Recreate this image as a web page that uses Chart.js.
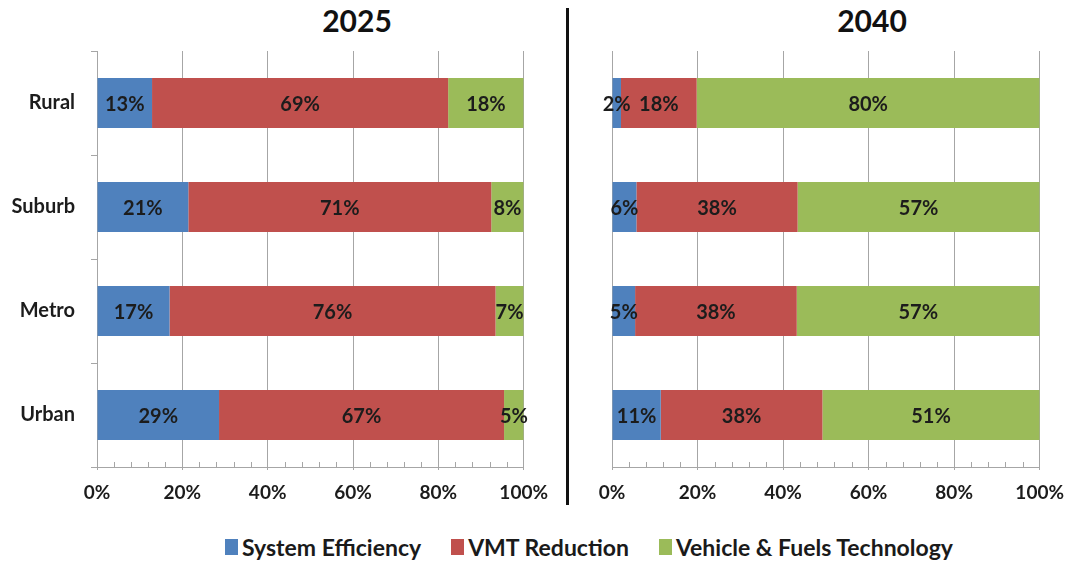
<!DOCTYPE html>
<html>
<head>
<meta charset="utf-8">
<script src="https://cdn.jsdelivr.net/npm/chart.js@4/dist/chart.umd.min.js"></script>
<style>
  body { margin: 0; background: #fff; font-family: Lato, sans-serif; }
  #wrap { position: relative; width: 1068px; height: 567px; overflow: hidden; }
  .box { position: absolute; top: 0; height: 510px; }
  .title { position: absolute; top: 2px; font: bold 30px Lato, sans-serif; color: #111; width: 200px; text-align: center; }
  #divider { position: absolute; left: 566px; top: 8px; width: 3px; height: 497px; background: #111; }
  #legend { position: absolute; left: 0; width: 1068px; top: 533px; display: flex; justify-content: center; padding-left: 110px; box-sizing: border-box; }
  .item { display: flex; align-items: center; margin: 0 15px; font: bold 23px Lato, sans-serif; color: #1a1a1a; }
  .swatch { width: 13px; height: 16px; margin-right: 4px; }
</style>
</head>
<body>
<div id="wrap">
  <div class="title" style="left:257px">2025</div>
  <div class="title" style="left:772px">2040</div>
  <div class="box" style="left:0;width:559px"><canvas id="left"></canvas></div>
  <div class="box" style="left:575px;width:500px"><canvas id="right"></canvas></div>
  <div id="divider"></div>
  <div id="legend"></div>
</div>
<script>
"use strict";
var categories = ['Rural', 'Suburb', 'Metro', 'Urban'];
var seriesNames = ['System Efficiency', 'VMT Reduction', 'Vehicle & Fuels Technology'];
var seriesColors = ['#4f81bd', '#c0504d', '#9bbb59'];
var xTicks = [0, 20, 40, 60, 80, 100];

// 2025
var sysEff2025 = [12.9, 21.4, 17.0, 28.6];
var vmt2025 = [69.4, 71.0, 76.4, 66.8];
var vehicle2025 = [17.7, 7.6, 6.6, 4.6];
// 2040
var sysEff2040 = [2.1, 5.7, 5.4, 11.4];
var vmt2040 = [17.7, 37.7, 37.8, 37.8];
var vehicle2040 = [80.2, 56.6, 56.8, 50.8];

var gridGrey = '#a6a6a6';
var textColor = '#1c1c1c';

// value labels in the middle of each segment
var barLabels = {
    id: 'barLabels',
    afterDatasetsDraw: function(chart) {
        var ctx = chart.ctx;
        ctx.save();
        ctx.font = 'bold 20px Lato, sans-serif';
        ctx.fillStyle = textColor;
        ctx.textAlign = 'center';
        ctx.textBaseline = 'middle';
        chart.data.datasets.forEach(function(ds, i) {
            chart.getDatasetMeta(i).data.forEach(function(bar, j) {
                var p = bar.getCenterPoint();
                ctx.fillText(Math.round(ds.data[j]) + '%', p.x, p.y + 2);
            });
        });
        ctx.restore();
    }
};

// small minor ticks every 4% standing on the x axis
var minorTicks = {
    id: 'minorTicks',
    afterDraw: function(chart) {
        var ctx = chart.ctx, x = chart.scales.x, bottom = chart.chartArea.bottom;
        ctx.save();
        ctx.strokeStyle = gridGrey;
        ctx.lineWidth = 1;
        for (var v = 4; v < 100; v += 4) {
            if (v % 20 === 0) continue;
            var px = Math.round(x.getPixelForValue(v)) + 0.5;
            ctx.beginPath();
            ctx.moveTo(px, bottom);
            ctx.lineTo(px, bottom - 5);
            ctx.stroke();
        }
        ctx.restore();
    }
};

function makeChart(id, values, showCats, yWidth) {
    return new Chart(document.getElementById(id), {
        type: 'bar',
        data: {
            labels: categories,
            datasets: values.map(function(v, i) {
                return {
                    label: seriesNames[i],
                    data: v,
                    backgroundColor: seriesColors[i],
                    borderWidth: 0,
                    categoryPercentage: 0.48,
                    barPercentage: 1
                };
            })
        },
        options: {
            indexAxis: 'y',
            responsive: true,
            maintainAspectRatio: false,
            animation: false,
            layout: { padding: { top: 51, right: 0, left: 0, bottom: 0 } },
            plugins: { legend: { display: false }, tooltip: { enabled: false } },
            scales: {
                x: {
                    stacked: true,
                    min: 0,
                    max: 100,
                    afterBuildTicks: function(scale) {
                        scale.ticks = xTicks.map(function(v) { return { value: v }; });
                    },
                    afterFit: function(scale) { scale.height = 43; },
                    grid: { color: gridGrey, tickLength: 3, lineWidth: 1 },
                    border: { color: gridGrey },
                    ticks: {
                        padding: 11,
                        color: textColor,
                        font: { family: 'Lato', weight: 'bold', size: 19 },
                        callback: function(v) { return v + '%'; }
                    }
                },
                y: {
                    stacked: true,
                    afterFit: function(scale) { scale.width = yWidth; },
                    grid: { display: showCats, drawOnChartArea: false, color: gridGrey, tickLength: 6 },
                    border: { display: showCats, color: gridGrey },
                    ticks: {
                        display: showCats,
                        padding: 16,
                        color: textColor,
                        font: { family: 'Lato', weight: 'bold', size: 20 }
                    }
                }
            }
        },
        plugins: [barLabels, minorTicks]
    });
}

makeChart('left', [sysEff2025, vmt2025, vehicle2025], true, 97);
makeChart('right', [sysEff2040, vmt2040, vehicle2040], false, 37);

var legend = document.getElementById('legend');
seriesNames.forEach(function(name, i) {
    var item = document.createElement('div');
    item.className = 'item';
    var sw = document.createElement('span');
    sw.className = 'swatch';
    sw.style.background = seriesColors[i];
    item.appendChild(sw);
    item.appendChild(document.createTextNode(name));
    legend.appendChild(item);
});
</script>
</body>
</html>
